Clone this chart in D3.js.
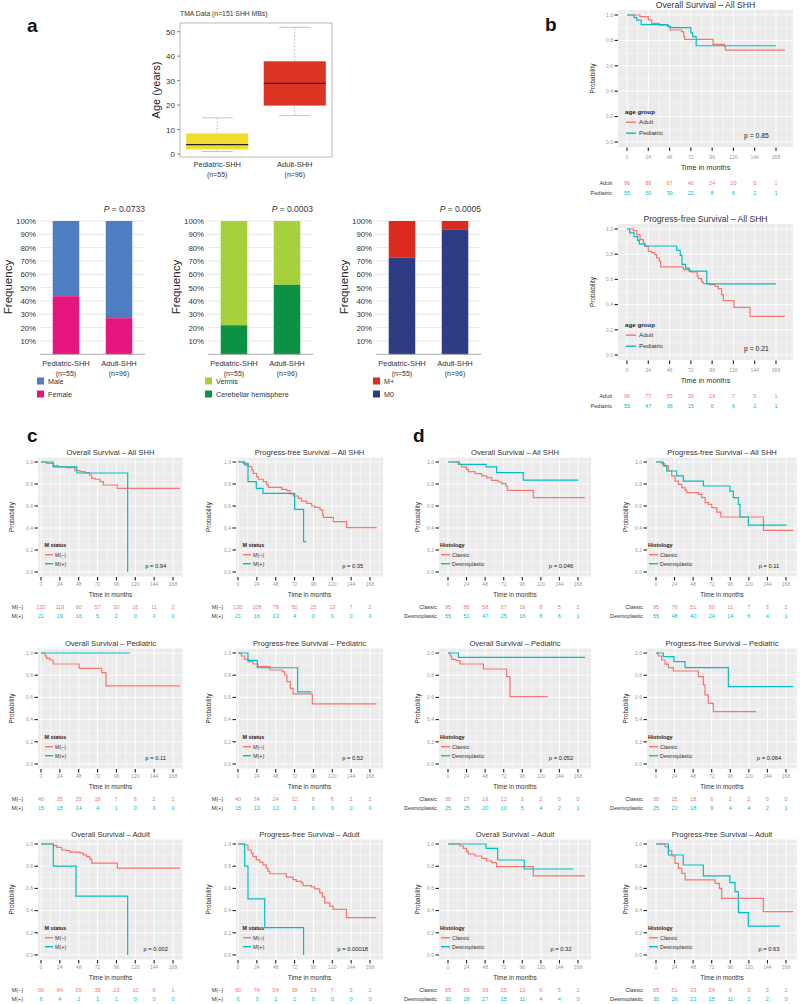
<!DOCTYPE html>
<html>
<head>
<meta charset="utf-8">
<script src="https://cdnjs.cloudflare.com/ajax/libs/d3/7.8.5/d3.min.js"></script>
<style>
  body { margin: 0; background: #fff; }
  text { font-family: "Liberation Sans", Arial, Helvetica, sans-serif; }
</style>
</head>
<body>
<svg id="fig" width="800" height="1004"></svg>
<script>
// ---- panel a: age box plot ----
const boxGroups = ['Pediatric-SHH', 'Adult-SHH'];
const groupN = ['(n=55)', '(n=96)'];
const ageMin = [1.0, 15.7];
const ageQ1 = [1.9, 19.8];
const ageMedian = [3.8, 28.9];
const ageQ3 = [8.4, 37.9];
const ageMax = [14.8, 51.8];
const ageTicks = [0, 10, 20, 30, 40, 50];

// ---- panel a: stacked frequency bars (% of lower segment) ----
const pctFemale = [43.6, 27.1];
const pctHemisphere = [21.8, 52.1];
const pctM0 = [72.7, 93.75];
const pctTicks = [10, 20, 30, 40, 50, 60, 70, 80, 90, 100];
const barP = ['0.0733', '0.0003', '0.0005'];

// ---- Kaplan-Meier axes ----
const monthTicks = [0, 24, 48, 72, 96, 120, 144, 168];
const probTicks = [0, 0.2, 0.4, 0.6, 0.8, 1.0];

// ---- panel b: age group ----
const osAgeAdult = [[0,1],[14.6,0.987],[24,0.961],[27.8,0.934],[36.4,0.921],[46.5,0.908],[48.4,0.882],[61.5,0.869],[64,0.829],[65,0.808],[97,0.769],[110,0.751],[111,0.724],[178,0.724]];
const osAgePed = [[0,1],[8,0.98],[11,0.96],[16,0.925],[46,0.91],[49,0.90],[72,0.86],[74,0.83],[78,0.758],[168,0.758]];
const pfsAgeAdult = [[0,1],[7.1,0.987],[10.9,0.955],[14.7,0.915],[18.4,0.889],[20.3,0.862],[24,0.823],[27.8,0.81],[31.6,0.796],[33.4,0.77],[36.5,0.743],[38,0.70],[63.5,0.677],[71,0.659],[79.3,0.624],[80.4,0.606],[84.2,0.579],[86,0.566],[93.6,0.558],[99.2,0.545],[103,0.526],[106.7,0.479],[108.6,0.431],[120.6,0.378],[138.7,0.307],[178,0.307]];
const pfsAgePed = [[0,1],[3,0.97],[8,0.94],[12,0.91],[14,0.88],[20,0.865],[56,0.83],[60,0.79],[62,0.72],[66,0.69],[70,0.665],[90,0.565],[168,0.565]];
const riskOsAgeAdult = [96, 88, 67, 40, 24, 10, 5, 1];
const riskOsAgePed = [55, 50, 39, 22, 8, 6, 2, 1];
const riskPfsAgeAdult = [96, 77, 55, 39, 19, 7, 5, 1];
const riskPfsAgePed = [55, 47, 36, 15, 6, 6, 2, 1];

// ---- panel c: M status ----
const osAllMNeg = [[0,1],[7.2,0.988],[15.6,0.967],[22,0.958],[32.6,0.948],[43,0.921],[49.6,0.912],[56,0.903],[61.5,0.882],[64.4,0.852],[68.7,0.843],[75,0.821],[79.3,0.791],[97,0.761],[177,0.761]];
const osAllMPos = [[0,1],[15.6,0.955],[45.5,0.90],[110.3,0]];
const pfsAllMNeg = [[0,1],[6.8,0.988],[13.1,0.958],[17.4,0.927],[19.5,0.897],[23.7,0.867],[25.9,0.843],[32.2,0.821],[36.5,0.791],[38.7,0.77],[55.6,0.752],[62,0.739],[66.2,0.709],[70.5,0.691],[76.8,0.67],[81,0.645],[87.4,0.624],[93.8,0.6],[98,0.588],[104.4,0.564],[107.8,0.518],[108.6,0.497],[121.4,0.458],[138.3,0.403],[176.6,0.403]];
const pfsAllMPos = [[0,1],[8.5,0.973],[12.7,0.821],[23.3,0.761],[31.8,0.715],[72.1,0.57],[83.5,0.276],[86.9,0.276]];
const osPedMNeg = [[0,1],[5.1,0.973],[7.2,0.952],[11.4,0.937],[15.6,0.901],[48.6,0.862],[77.2,0.823],[82.7,0.703],[177,0.703]];
const osPedMPos = [[0,1],[113,1]];
const pfsPedMNeg = [[0,1],[4.2,0.973],[8.5,0.943],[12.7,0.922],[19.1,0.901],[25.4,0.877],[40.3,0.847],[56.4,0.832],[59.4,0.802],[62.3,0.742],[66.6,0.682],[70,0.631],[94.6,0.541],[176,0.541]];
const pfsPedMPos = [[0,1],[12.7,0.933],[24.5,0.867],[75.9,0.65],[93.5,0.65]];
const osAdMNeg = [[0,1],[15.7,0.985],[20,0.97],[26.3,0.946],[32.6,0.94],[36.9,0.926],[49.6,0.917],[53.8,0.902],[58.1,0.887],[62.3,0.863],[64.5,0.827],[97.1,0.783],[177,0.783]];
const osAdMPos = [[0,1],[15.7,0.8],[44.5,0.53],[110.3,0]];
const pfsAdMNeg = [[0,1],[8.5,0.991],[12.7,0.946],[17,0.917],[19.1,0.887],[23.3,0.857],[27.6,0.836],[31.8,0.812],[36,0.783],[38.2,0.753],[40.3,0.732],[61.5,0.702],[70,0.679],[74.2,0.664],[80.6,0.649],[82.8,0.625],[93.4,0.613],[97.6,0.595],[104,0.56],[107.4,0.524],[110.4,0.47],[116.8,0.44],[121,0.411],[138,0.336],[176,0.336]];
const pfsAdMPos = [[0,1],[8.5,0.8],[12.7,0.506],[34,0.247],[83.5,0]];
const riskOsAllMNeg = [130, 119, 90, 57, 30, 16, 11, 2];
const riskOsAllMPos = [21, 19, 16, 5, 2, 0, 0, 0];
const riskPfsAllMNeg = [130, 108, 78, 50, 25, 13, 7, 2];
const riskPfsAllMPos = [21, 16, 13, 4, 0, 0, 0, 0];
const riskOsPedMNeg = [40, 35, 25, 18, 7, 6, 2, 1];
const riskOsPedMPos = [15, 15, 14, 4, 1, 0, 0, 0];
const riskPfsPedMNeg = [40, 34, 24, 12, 6, 6, 2, 1];
const riskPfsPedMPos = [15, 13, 12, 3, 0, 0, 0, 0];
const riskOsAdMNeg = [90, 84, 65, 39, 23, 10, 9, 1];
const riskOsAdMPos = [6, 4, 2, 1, 1, 0, 0, 0];
const riskPfsAdMNeg = [90, 74, 54, 38, 19, 7, 5, 1];
const riskPfsAdMPos = [6, 3, 1, 1, 0, 0, 0, 0];

// ---- panel d: histology ----
const osAllClassic = [[0,1],[13.3,0.979],[17.6,0.955],[24.1,0.933],[26.3,0.912],[34.9,0.894],[43.5,0.873],[50,0.858],[56.4,0.833],[65,0.818],[69.3,0.803],[74.9,0.782],[76.6,0.742],[110.2,0.676],[177,0.676]];
const osAllDesmo = [[0,1],[14.6,0.979],[49.1,0.955],[62.8,0.903],[97.3,0.836],[168.4,0.836]];
const pfsAllClassic = [[0,1],[7.3,0.985],[11.6,0.964],[16,0.918],[20.3,0.873],[24.6,0.827],[29,0.797],[33.3,0.767],[37.6,0.742],[39.8,0.721],[54.9,0.706],[59.2,0.676],[63.5,0.63],[67.8,0.615],[72.1,0.585],[78.6,0.545],[83.8,0.5],[138.9,0.379],[177.7,0.379]];
const pfsAllDesmo = [[0,1],[9.5,0.964],[13.8,0.918],[26.7,0.873],[35.3,0.827],[61.2,0.782],[95.6,0.736],[99.9,0.676],[106.4,0.615],[108.5,0.5],[119.3,0.427],[168.8,0.427]];
const osPedClassic = [[0,1],[2.6,0.973],[4.7,0.943],[10.3,0.931],[15.5,0.901],[45.7,0.856],[75.8,0.787],[80.1,0.607],[128.8,0.607]];
const osPedDesmo = [[0,1],[13.4,0.961],[177,0.961]];
const pfsPedClassic = [[0,1],[3,0.973],[7.3,0.937],[11.6,0.9],[16,0.868],[22.4,0.838],[54.7,0.787],[61.2,0.712],[63.3,0.622],[67.6,0.547],[74.1,0.472],[129.2,0.472]];
const pfsPedDesmo = [[0,1],[9.5,0.967],[23.3,0.922],[37.5,0.868],[93.5,0.697],[177.4,0.697]];
const osAdClassic = [[0,1],[15.5,0.982],[19.8,0.961],[24.1,0.931],[26.3,0.91],[34.9,0.892],[43.5,0.871],[50,0.847],[56.4,0.832],[62.8,0.796],[110.2,0.712],[177,0.712]];
const osAdDesmo = [[0,1],[49.1,0.961],[64.2,0.856],[98.6,0.775],[161.9,0.775]];
const pfsAdClassic = [[0,1],[11.6,0.976],[16,0.94],[20.3,0.892],[24.6,0.826],[29,0.781],[33.3,0.736],[37.6,0.676],[76.3,0.646],[81.9,0.601],[84.9,0.511],[138.7,0.39],[177.4,0.39]];
const pfsAdDesmo = [[0,1],[16,0.901],[35.3,0.811],[61.2,0.712],[95.6,0.652],[102.1,0.571],[106.4,0.381],[119.3,0.261],[160.2,0.261]];
const riskOsAllClassic = [95, 86, 58, 37, 16, 8, 5, 1];
const riskOsAllDesmo = [55, 51, 47, 25, 16, 8, 6, 1];
const riskPfsAllClassic = [95, 76, 51, 30, 11, 7, 3, 1];
const riskPfsAllDesmo = [55, 48, 40, 24, 14, 6, 4, 1];
const riskOsPedClassic = [30, 27, 19, 12, 3, 2, 0, 0];
const riskOsPedDesmo = [25, 25, 20, 10, 5, 4, 2, 1];
const riskPfsPedClassic = [30, 25, 18, 6, 2, 2, 0, 0];
const riskPfsPedDesmo = [25, 22, 18, 9, 4, 4, 2, 1];
const riskOsAdClassic = [65, 59, 39, 25, 13, 6, 5, 1];
const riskOsAdDesmo = [30, 28, 27, 15, 11, 4, 4, 0];
const riskPfsAdClassic = [65, 51, 33, 24, 9, 3, 3, 1];
const riskPfsAdDesmo = [30, 26, 22, 15, 11, 2, 2, 0];

const RED = '#F8766D';
const TEAL = '#00BFC4';
const svg = d3.select('#fig');

const addText = function(g, x, y, s, size, o = {}) {
  const t = g.append('text')
    .attr('x', x)
    .attr('y', y)
    .attr('font-size', size)
    .attr('fill', o.fill || '#222')
    .attr('text-anchor', o.anchor || 'start')
    .text(s);
  if (o.weight) t.attr('font-weight', o.weight);
  if (o.rotate) t.attr('transform', `rotate(-90,${x},${y})`);
  return t;
};

// panel letters
[['a', 27, 32], ['b', 545, 31], ['c', 27, 442], ['d', 413, 442]].forEach(([l, x, y]) =>
  addText(svg, x, y, l, 19, { weight: 'bold', fill: '#111' }));

/**
 * Box plot of age at diagnosis
 */
const drawBoxPlot = function() {
  const g = svg.append('g').attr('class', 'boxplot');
  const x = d3.scaleBand().domain(boxGroups).range([180, 332]).paddingInner(0.2).paddingOuter(0.08);
  const y = d3.scaleLinear().domain([0, 50]).range([154, 31.7]);
  const fills = ['#f0dc2c', '#dd3322'];

  g.append('rect').attr('x', 180).attr('y', 23).attr('width', 152).attr('height', 134)
    .attr('fill', 'none').attr('stroke', '#a8a8a8').attr('stroke-width', 0.8);

  ageTicks.forEach(t => {
    g.append('line').attr('x1', 177).attr('x2', 180).attr('y1', y(t)).attr('y2', y(t))
      .attr('stroke', '#555').attr('stroke-width', 0.7);
    addText(g, 175, y(t) + 3, t, 8, { anchor: 'end', fill: '#333' });
  });
  addText(g, 160, 90, 'Age (years)', 11, { anchor: 'middle', rotate: true, fill: '#222' });
  addText(g, 180, 16, 'TMA Data (n=151 SHH MBs)', 6.8, { fill: '#333' });

  boxGroups.forEach((grp, i) => {
    const bx = x(grp);
    const bw = x.bandwidth();
    const cx = bx + bw / 2;
    // whiskers
    [[ageQ3[i], ageMax[i]], [ageMin[i], ageQ1[i]]].forEach(([a, b]) =>
      g.append('line').attr('x1', cx).attr('x2', cx).attr('y1', y(a)).attr('y2', y(b))
        .attr('stroke', '#b5b5b5').attr('stroke-width', 0.8).attr('stroke-dasharray', '2,1.5'));
    [ageMin[i], ageMax[i]].forEach(v =>
      g.append('line').attr('x1', cx - bw / 4).attr('x2', cx + bw / 4).attr('y1', y(v)).attr('y2', y(v))
        .attr('stroke', '#b5b5b5').attr('stroke-width', 0.8));
    g.append('rect').attr('x', bx).attr('y', y(ageQ3[i])).attr('width', bw)
      .attr('height', y(ageQ1[i]) - y(ageQ3[i])).attr('fill', fills[i]);
    g.append('line').attr('x1', bx).attr('x2', bx + bw).attr('y1', y(ageMedian[i])).attr('y2', y(ageMedian[i]))
      .attr('stroke', '#222').attr('stroke-width', 1.3);
    addText(g, cx, 167, grp, 7.5, { anchor: 'middle', fill: '#333' });
    addText(g, cx, 177, groupN[i], 7, { anchor: 'middle', fill: '#333' });
  });
};

/**
 * Stacked 100% bars
 */
const barCharts = [
  { lower: pctFemale, names: ['Male', 'Female'], colors: ['#4f7dc1', '#e5177f'] },
  { lower: pctHemisphere, names: ['Vermis', 'Cerebellar hemisphere'], colors: ['#a6d13d', '#0c9245'] },
  { lower: pctM0, names: ['M+', 'M0'], colors: ['#dc2b1c', '#2c3d86'] }
];

const drawBars = function(chart, i) {
  const dx = i * 168;
  const g = svg.append('g').attr('class', 'bars').attr('transform', `translate(${dx},0)`);
  const x = d3.scaleBand().domain(boxGroups).range([40, 145]).paddingInner(0.5).paddingOuter(0.24);
  const y = d3.scaleLinear().domain([0, 100]).range([354.3, 221]);

  pctTicks.forEach(t => {
    g.append('line').attr('x1', 40).attr('x2', 145).attr('y1', y(t)).attr('y2', y(t))
      .attr('stroke', '#e2e2e2').attr('stroke-width', 0.8);
    addText(g, 36, y(t) + 3, t + '%', 7.8, { anchor: 'end', fill: '#333' });
  });
  boxGroups.forEach((grp, k) => {
    const low = chart.lower[k];
    g.append('rect').attr('x', x(grp)).attr('y', y(100)).attr('width', x.bandwidth())
      .attr('height', y(low) - y(100)).attr('fill', chart.colors[0]);
    g.append('rect').attr('x', x(grp)).attr('y', y(low)).attr('width', x.bandwidth())
      .attr('height', y(0) - y(low)).attr('fill', chart.colors[1]);
    addText(g, x(grp) + x.bandwidth() / 2, 366, grp, 7.5, { anchor: 'middle', fill: '#333' });
    addText(g, x(grp) + x.bandwidth() / 2, 375.5, groupN[k], 7, { anchor: 'middle', fill: '#333' });
  });
  g.append('line').attr('x1', 40).attr('x2', 145).attr('y1', y(0)).attr('y2', y(0))
    .attr('stroke', '#a0a0a0').attr('stroke-width', 0.9);
  addText(g, 12, 287, 'Frequency', 11.5, { anchor: 'middle', rotate: true, fill: '#222' });

  const pt = g.append('text').attr('x', 145).attr('y', 212).attr('font-size', 8.5)
    .attr('text-anchor', 'end').attr('fill', '#333');
  pt.append('tspan').attr('font-style', 'italic').text('P');
  pt.append('tspan').text(' = ' + barP[i]);

  chart.names.forEach((nm, k) => {
    g.append('rect').attr('x', 37).attr('y', 377.5 + k * 13).attr('width', 7).attr('height', 7)
      .attr('fill', chart.colors[k]);
    addText(g, 48, 384 + k * 13, nm, 7.2, { fill: '#333' });
  });
};

/**
 * Kaplan-Meier panel with legend, p value and risk table
 */
const drawKm = function(p) {
  const g = svg.append('g').attr('class', 'km');
  const x = d3.scaleLinear().domain([0, 168]).range([p.x0, p.x168]);
  const y = d3.scaleLinear().domain([0, 1]).range([p.y0, p.y1]);
  const top = y(1.04);
  const bot = y(-0.04);
  const xLo = x.invert(p.left);
  const xHi = x.invert(p.right);

  g.append('rect').attr('x', p.left).attr('y', top).attr('width', p.right - p.left)
    .attr('height', bot - top).attr('fill', '#EBEBEB');

  const xMinor = d3.range(-12, 204, 24).filter(v => v > xLo && v < xHi);
  const xMajor = monthTicks.concat([192]).filter(v => v > xLo && v < xHi);
  const yMinor = [0.1, 0.3, 0.5, 0.7, 0.9];
  xMinor.forEach(v => g.append('line').attr('x1', x(v)).attr('x2', x(v)).attr('y1', top).attr('y2', bot)
    .attr('stroke', '#fff').attr('stroke-width', 0.45));
  yMinor.forEach(v => g.append('line').attr('x1', p.left).attr('x2', p.right).attr('y1', y(v)).attr('y2', y(v))
    .attr('stroke', '#fff').attr('stroke-width', 0.45));
  xMajor.forEach(v => g.append('line').attr('x1', x(v)).attr('x2', x(v)).attr('y1', top).attr('y2', bot)
    .attr('stroke', '#fff').attr('stroke-width', 0.9));
  probTicks.forEach(v => g.append('line').attr('x1', p.left).attr('x2', p.right).attr('y1', y(v)).attr('y2', y(v))
    .attr('stroke', '#fff').attr('stroke-width', 0.9));

  // axes
  probTicks.forEach(v => {
    g.append('line').attr('x1', p.left - 3.5).attr('x2', p.left).attr('y1', y(v)).attr('y2', y(v))
      .attr('stroke', '#222').attr('stroke-width', 1.1);
    addText(g, p.left - 5, y(v) + 1.8, v.toFixed(1), 5, { anchor: 'end', fill: '#999' });
  });
  monthTicks.forEach(v => {
    g.append('line').attr('x1', x(v)).attr('x2', x(v)).attr('y1', bot + 0.5).attr('y2', bot + 4)
      .attr('stroke', '#222').attr('stroke-width', 1.1);
    addText(g, x(v), p.y0 + p.lay.xlab, v, 5, { anchor: 'middle', fill: '#999' });
  });
  addText(g, (p.left + p.right) / 2, p.y0 + p.lay.xtitle, 'Time in months', p.lay.axisFont,
    { anchor: 'middle', fill: '#333' });
  addText(g, p.left - p.ylabDx, (top + bot) / 2, 'Probability', 6.4, { anchor: 'middle', rotate: true, fill: '#333' });
  addText(g, (p.left + p.right) / 2, p.y1 - 7.5, p.title, p.lay.titleFont, { anchor: 'middle', fill: '#333' });

  // curves
  const line = d3.line().x(d => x(d[0])).y(d => y(d[1])).curve(d3.curveStepAfter);
  const colors = [RED, TEAL];
  p.curves.forEach((c, k) => {
    g.append('path').attr('d', line(c)).attr('fill', 'none').attr('stroke', colors[k])
      .attr('stroke-width', 1.2);
  });

  // legend
  const L = p.lay;
  addText(g, p.left + L.legX, p.y0 + L.legY[0], p.legend, L.legFont, { weight: 'bold', fill: '#222' });
  p.names.forEach((nm, k) => {
    const ly = p.y0 + L.legY[k + 1];
    g.append('line').attr('x1', p.left + L.legLine[0]).attr('x2', p.left + L.legLine[1])
      .attr('y1', ly - 1.8).attr('y2', ly - 1.8).attr('stroke', colors[k]).attr('stroke-width', 1.4);
    addText(g, p.left + L.legText, ly, nm, L.legFont, { fill: '#333' });
  });
  addText(g, x(146), p.y0 - 4, p.p, L.pFont, { anchor: 'middle', fill: '#222' });

  // risk table
  p.risk.forEach((row, k) => {
    const ry = p.y0 + L.risk[k];
    addText(g, p.riskLabelX, ry, p.names[k], 5.5, { anchor: 'end', fill: '#333' });
    row.forEach((n, j) => addText(g, x(monthTicks[j]), ry, n, 5.6, { anchor: 'middle', fill: colors[k] }));
  });
};

const layB = { xlab: 17, xtitle: 28, risk: [43, 53], axisFont: 7.3, titleFont: 8.6,
  legX: 7, legY: [-28, -18, -7], legLine: [8, 18], legText: 21, legFont: 6.2, pFont: 6.8 };
const layC = { xlab: 14, xtitle: 24.5, risk: [37, 46], axisFont: 6.4, titleFont: 7.6,
  legX: 6.5, legY: [-25, -15.5, -6.5], legLine: [7, 15], legText: 17, legFont: 5.4, pFont: 5.8 };
const layD = Object.assign({}, layC, { legX: 1, legLine: [2, 11], legText: 13 });

const colB = { left: 618, right: 793, x0: 627, x168: 776, riskLabelX: 612, ylabDx: 23, lay: layB };
const colC = [
  { left: 38, right: 183, x0: 41, x168: 173, riskLabelX: 23, ylabDx: 24, lay: layC },
  { left: 236, right: 383, x0: 238, x168: 370, riskLabelX: 223, ylabDx: 25, lay: layC }
];
const colD = [
  { left: 439, right: 591, x0: 448, x168: 578, riskLabelX: 437, ylabDx: 19, lay: layD },
  { left: 647, right: 797, x0: 656, x168: 786, riskLabelX: 643, ylabDx: 19, lay: layD }
];
const rowsCD = [{ y1: 462, y0: 572 }, { y1: 653, y0: 764 }, { y1: 844, y0: 955 }];

const kmPanels = [
  Object.assign({ y1: 15, y0: 142, title: 'Overall Survival – All SHH', legend: 'age group', names: ['Adult', 'Pediatric'],
    curves: [osAgeAdult, osAgePed], risk: [riskOsAgeAdult, riskOsAgePed], p: 'p = 0.85' }, colB),
  Object.assign({ y1: 229, y0: 355, title: 'Progress-free Survival – All SHH', legend: 'age group', names: ['Adult', 'Pediatric'],
    curves: [pfsAgeAdult, pfsAgePed], risk: [riskPfsAgeAdult, riskPfsAgePed], p: 'p = 0.21' }, colB)
];

const mSets = [
  ['All SHH', [osAllMNeg, osAllMPos], [riskOsAllMNeg, riskOsAllMPos], '0.94', [pfsAllMNeg, pfsAllMPos], [riskPfsAllMNeg, riskPfsAllMPos], '0.35'],
  ['Pediatric', [osPedMNeg, osPedMPos], [riskOsPedMNeg, riskOsPedMPos], '0.11', [pfsPedMNeg, pfsPedMPos], [riskPfsPedMNeg, riskPfsPedMPos], '0.52'],
  ['Adult', [osAdMNeg, osAdMPos], [riskOsAdMNeg, riskOsAdMPos], '0.002', [pfsAdMNeg, pfsAdMPos], [riskPfsAdMNeg, riskPfsAdMPos], '0.00018']
];
const histSets = [
  ['All SHH', [osAllClassic, osAllDesmo], [riskOsAllClassic, riskOsAllDesmo], '0.046', [pfsAllClassic, pfsAllDesmo], [riskPfsAllClassic, riskPfsAllDesmo], '0.11'],
  ['Pediatric', [osPedClassic, osPedDesmo], [riskOsPedClassic, riskOsPedDesmo], '0.052', [pfsPedClassic, pfsPedDesmo], [riskPfsPedClassic, riskPfsPedDesmo], '0.064'],
  ['Adult', [osAdClassic, osAdDesmo], [riskOsAdClassic, riskOsAdDesmo], '0.32', [pfsAdClassic, pfsAdDesmo], [riskPfsAdClassic, riskPfsAdDesmo], '0.63']
];

[[mSets, colC, 'M status', ['M(–)', 'M(+)']], [histSets, colD, 'Histology', ['Classic', 'Desmoplastic']]]
  .forEach(([sets, cols, legend, names]) => {
    sets.forEach((s, r) => {
      kmPanels.push(Object.assign({ title: 'Overall Survival – ' + s[0], legend, names,
        curves: s[1], risk: s[2], p: 'p = ' + s[3] }, rowsCD[r], cols[0]));
      kmPanels.push(Object.assign({ title: 'Progress-free Survival – ' + s[0], legend, names,
        curves: s[4], risk: s[5], p: 'p = ' + s[6] }, rowsCD[r], cols[1]));
    });
  });

drawBoxPlot();
barCharts.forEach(drawBars);
kmPanels.forEach(drawKm);
</script>
</body>
</html>
